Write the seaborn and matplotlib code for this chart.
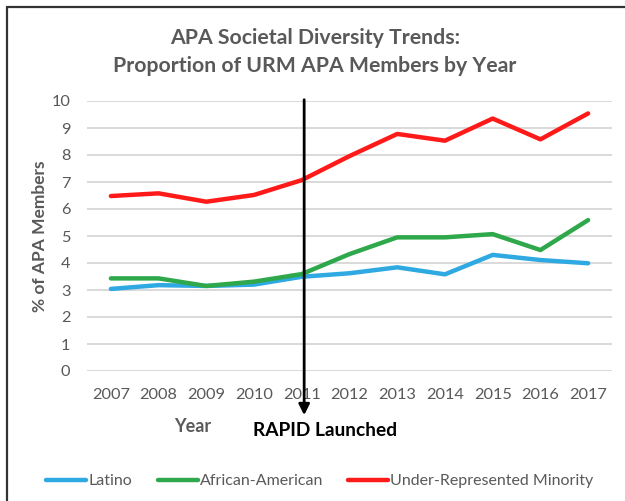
import matplotlib
matplotlib.use("Agg")
import matplotlib.pyplot as plt
import seaborn as sns
import pandas as pd
from matplotlib.lines import Line2D

years = [2007, 2008, 2009, 2010, 2011, 2012, 2013, 2014, 2015, 2016, 2017]
latino = [3.04, 3.18, 3.15, 3.20, 3.49, 3.62, 3.84, 3.58, 4.30, 4.11, 3.99]
african_american = [3.43, 3.43, 3.15, 3.31, 3.59, 4.33, 4.95, 4.95, 5.07, 4.48, 5.59]
urm = [6.48, 6.58, 6.27, 6.52, 7.07, 7.96, 8.78, 8.53, 9.35, 8.58, 9.54]
series_names = ["Latino", "African-American", "Under-Represented Minority"]
colors = ["#2FA9E1", "#2EA84A", "#FF1A1A"]

df = pd.DataFrame({
    "Year": years * 3,
    "Value": latino + african_american + urm,
    "Series": [series_names[0]] * 11 + [series_names[1]] * 11 + [series_names[2]] * 11,
})

sns.set_theme(style="white")
plt.rcParams["font.family"] = ["Lato", "DejaVu Sans"]
gray = "#595959"

W, H = 625, 501
fig = plt.figure(figsize=(W / 100, H / 100), dpi=100)
ax = fig.add_axes([87 / W, 1 - 371 / H, (612 - 87) / W, (371 - 101) / H])

sns.lineplot(data=df, x="Year", y="Value", hue="Series", palette=colors,
             linewidth=3.2, ax=ax, legend=False, sort=False)

ax.set_xlim(2006.5, 2017.5)
ax.set_ylim(0, 10)
ax.set_xticks(years)
ax.set_xticklabels([str(y) for y in years])
ax.set_yticks(range(0, 11))
ax.grid(axis="y", color="#D9D9D9", linewidth=1.4)
ax.set_axisbelow(True)
for s in ax.spines.values():
    s.set_visible(False)
ax.tick_params(axis="both", length=0, labelsize=11.8, labelcolor=gray)
ax.tick_params(axis="x", pad=12)
ax.tick_params(axis="y", pad=12)
ax.set_xlabel("")
ax.set_ylabel("")

# Title
fig.text(315 / W, 1 - 38 / H, "APA Societal Diversity Trends:", ha="center", va="center",
         fontsize=15.3, fontweight="bold", color=gray)
fig.text(315 / W, 1 - 66 / H, "Proportion of URM APA Members by Year", ha="center", va="center",
         fontsize=15.3, fontweight="bold", color=gray)

# Axis labels
fig.text(40 / W, 1 - 236 / H, "% of APA Members", rotation=90, ha="center", va="center",
         fontsize=12.5, fontweight="bold", color=gray)
fig.text(193 / W, 1 - 426 / H, "Year", ha="center", va="center",
         fontsize=13, fontweight="bold", color=gray)

# RAPID arrow
ax.annotate("", xy=(2011.05, -1.74), xytext=(2011.05, 10.15),
            arrowprops=dict(arrowstyle="-|>", color="black", lw=2, mutation_scale=16),
            annotation_clip=False)
fig.text(325 / W, 1 - 430 / H, "RAPID Launched", ha="center", va="center",
         fontsize=13.8, fontweight="bold", color="black")

# Legend
handles = [Line2D([0], [0], color=c, lw=3.2) for c in colors]
leg = fig.legend(handles, series_names, loc="center", bbox_to_anchor=(320 / W, 1 - 481 / H),
                 ncol=3, frameon=False, fontsize=11.5, handlelength=2.5, handletextpad=0.12,
                 columnspacing=1.6)
for t in leg.get_texts():
    t.set_color(gray)

# Frame border (top and left)
fig.add_artist(Line2D([7 / W, 1.0], [1 - 7 / H, 1 - 7 / H], color="#333333", lw=1.6,
                      transform=fig.transFigure))
fig.add_artist(Line2D([7 / W, 7 / W], [1 - 7 / H, 0.0], color="#333333", lw=1.6,
                      transform=fig.transFigure))

fig.savefig("out.png", dpi=100)
